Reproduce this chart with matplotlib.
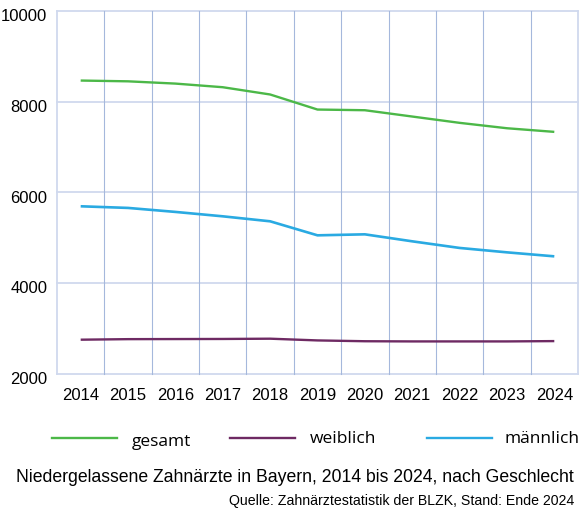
import numpy as np
import matplotlib.pyplot as plt
import matplotlib.transforms as mtransforms

# values
years = ['2014', '2015', '2016', '2017', '2018', '2019', '2020', '2021', '2022', '2023', '2024']
gesamt = [8467, 8450, 8400, 8320, 8160, 7828, 7813, 7674, 7535, 7416, 7336]
weiblich = [2756, 2768, 2770, 2772, 2778, 2740, 2722, 2718, 2718, 2718, 2725]
maennlich = [5696, 5660, 5572, 5475, 5365, 5056, 5078, 4924, 4778, 4681, 4593]
y_ticks = [2000, 4000, 6000, 8000, 10000]

green = '#4cb848'
purple = '#6e2a63'
blue = '#2aaae2'
grid_h = '#d0d9ee'
grid_v = '#a5b8dc'

plt.rcParams['font.family'] = 'Liberation Sans'

fig = plt.figure(figsize=(5.84, 5.16), dpi=100)
ax = fig.add_axes([0.0976, 0.2752, 0.8921, 0.7035])

x = np.arange(len(years))
ax.plot(x, gesamt, color=green, lw=1.7, solid_capstyle='butt')
ax.plot(x, maennlich, color=blue, lw=1.9, solid_capstyle='butt')
ax.plot(x, weiblich, color=purple, lw=1.7, solid_capstyle='butt')

ax.set_xlim(-0.5, len(years) - 0.5)
ax.set_ylim(2000, 10000)

# grid: horizontal at y ticks, vertical between categories
for v in y_ticks:
    ax.axhline(v, color=grid_h, lw=1.3, zorder=0, clip_on=False)
edges = np.arange(-0.5, len(years), 1.0)
for b in edges:
    outer = b == edges[0] or b == edges[-1]
    ax.axvline(b, color=grid_h if outer else grid_v, lw=1.3 if outer else 0.8,
               zorder=0, clip_on=False)

for s in ax.spines.values():
    s.set_visible(False)

ax.set_xticks(x)
ax.set_xticklabels(years, fontsize=12)
ax.set_yticks(y_ticks)
ax.set_yticklabels([str(v) for v in y_ticks], fontsize=12)
ax.tick_params(axis='x', length=0, pad=10)
ax.tick_params(axis='y', length=0, pad=7)
off = mtransforms.ScaledTranslation(0, -3 / 72, fig.dpi_scale_trans)
for lab in ax.get_yticklabels():
    lab.set_transform(lab.get_transform() + off)

# legend drawn by hand in figure pixels
W, H = 584, 516
legend_items = [(green, 'gesamt', 52, 117, 132, 442),
                (purple, 'weiblich', 230, 295, 310, 439),
                (blue, 'männlich', 427, 492, 504, 439)]
for col, name, x0, x1, tx, ty in legend_items:
    fig.add_artist(plt.Line2D([x0 / W, x1 / W], [1 - 438 / H, 1 - 438 / H],
                              color=col, lw=1.7, transform=fig.transFigure))
    fig.text(tx / W, 1 - ty / H, name, fontsize=12.5, family='Open Sans',
             va='center', ha='left')

fig.text(574 / W, 1 - 478 / H, 'Niedergelassene Zahnärzte in Bayern, 2014 bis 2024, nach Geschlecht',
         fontsize=12.7, ha='right', va='center')
fig.text(574 / W, 1 - 501 / H, 'Quelle: Zahnärztestatistik der BLZK, Stand: Ende 2024',
         fontsize=10.2, ha='right', va='center')

fig.savefig('out.png', dpi=100)
